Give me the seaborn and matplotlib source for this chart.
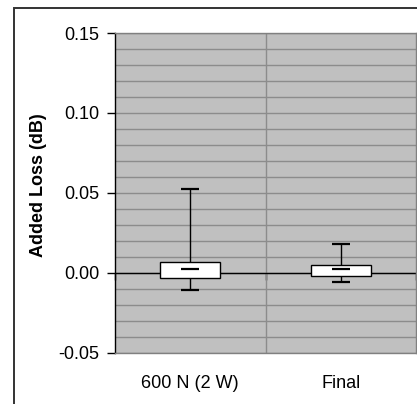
import numpy as np
import pandas as pd
import matplotlib
matplotlib.use("Agg")
import matplotlib.pyplot as plt
import seaborn as sns
from matplotlib.ticker import MultipleLocator, FixedLocator
from matplotlib.patches import Rectangle

# ---- data ----
categories = ["600 N (2 W)", "Final"]
whisker_low = [-0.0108, -0.0060]
quartile_1 = [-0.0033, -0.0021]
medians = [0.0023, 0.0023]
quartile_3 = [0.0069, 0.0048]
whisker_high = [0.0523, 0.0179]
y_ticks = [-0.05, 0.00, 0.05, 0.10, 0.15]
y_label = "Added Loss (dB)"

sns.set_theme(style="white")
plt.rcParams["font.family"] = ["Liberation Sans", "DejaVu Sans"]

rows = []
for i, c in enumerate(categories):
    for v in (whisker_low[i], quartile_1[i], medians[i], quartile_3[i], whisker_high[i]):
        rows.append({"category": c, "loss": v})
df = pd.DataFrame(rows)

fig = plt.figure(figsize=(4.17, 4.04), dpi=100)
fig.patch.set_facecolor("white")
ax = fig.add_axes([115 / 417, 1 - 352.7 / 404, (416 - 115) / 417, (352.7 - 33) / 404])
ax.set_facecolor("#C0C0C0")
ax.set_axisbelow(True)

sns.boxplot(data=df, x="category", y="loss", order=categories, whis=(0, 100),
            width=0.4, showcaps=False, color="white", saturation=1,
            linecolor="black", linewidth=1.0,
            medianprops={"visible": False}, ax=ax)

pos = np.arange(len(categories))
for vals in (medians, whisker_low, whisker_high):
    sns.scatterplot(x=pos, y=vals, marker="_", s=150, color="black",
                    linewidth=1.6, ax=ax, zorder=5, legend=False)

ax.set_xlim(-0.5, len(categories) - 0.5)
ax.set_ylim(y_ticks[0], y_ticks[-1])

# zero line (category axis crossing)
ax.axhline(0, color="black", lw=1.0, zorder=1)
sec = ax.secondary_xaxis(0.25)
sec.xaxis.set_major_locator(FixedLocator(np.arange(len(categories) + 1) - 0.5))
sec.tick_params(axis="x", direction="out", length=5, width=1, color="black",
                labelbottom=False, labeltop=False)
sec.spines["bottom"].set_visible(False)
sec.spines["top"].set_visible(False)

# y axis
ax.set_yticks(y_ticks)
ax.set_yticklabels([f"{v:.2f}" for v in y_ticks])
ax.yaxis.set_minor_locator(MultipleLocator(0.01))
ax.tick_params(axis="y", which="major", direction="out", length=6, width=1,
               color="black", labelsize=13, labelcolor="black", pad=5, left=True)
ax.tick_params(axis="y", which="minor", length=0)
ax.set_ylabel(y_label, fontsize=13, fontweight="bold", color="black")
ax.yaxis.set_label_coords(-0.226, 0.525)

# x axis
ax.set_xticks(pos)
ax.set_xticklabels(categories)
ax.xaxis.set_minor_locator(FixedLocator(np.arange(len(categories) - 1) + 0.5))
ax.tick_params(axis="x", which="both", length=0, labelsize=13,
               labelcolor="black", pad=16)
ax.set_xlabel("")

# grid
ax.yaxis.grid(True, which="both", color="#8c8c8c", lw=1.0)
ax.xaxis.grid(True, which="minor", color="#8c8c8c", lw=1.0)
ax.xaxis.grid(False, which="major")

for side in ("top", "right", "bottom"):
    ax.spines[side].set_visible(True)
    ax.spines[side].set_color("#808080")
    ax.spines[side].set_linewidth(1.0)
ax.spines["left"].set_color("black")
ax.spines["left"].set_linewidth(1.0)

# chart-area border
top = 1 - 7.7 / 404
fig.add_artist(Rectangle((13.7 / 417, -0.5), 2, top + 0.5, transform=fig.transFigure,
                         fill=False, edgecolor="#333333", lw=1.4, clip_on=False))

fig.savefig("out.png", dpi=100)
